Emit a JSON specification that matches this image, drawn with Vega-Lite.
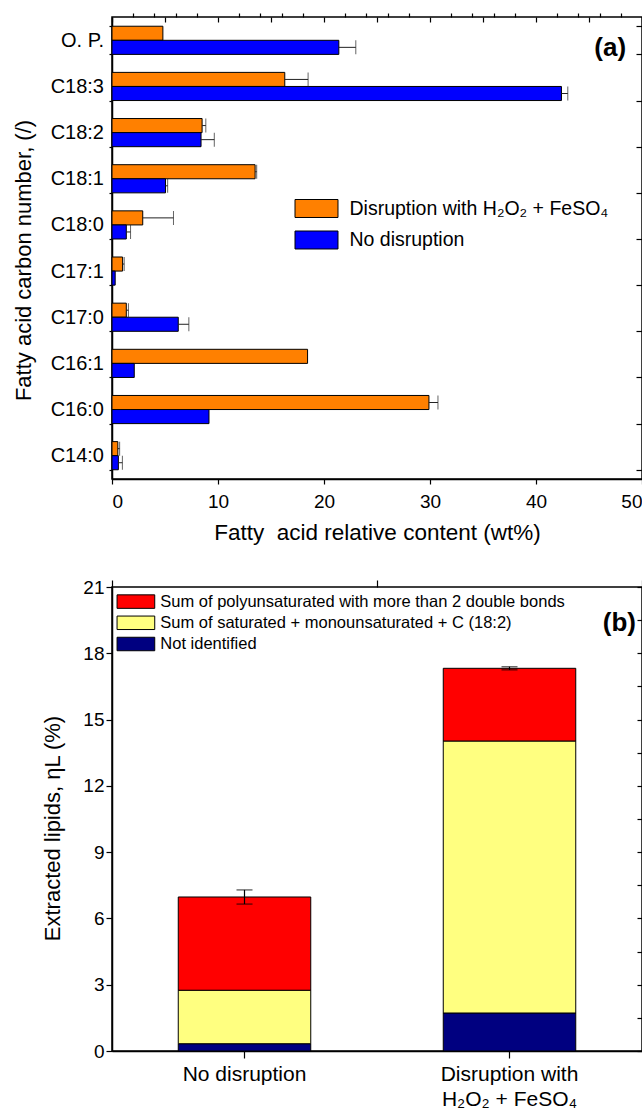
{
  "$schema": "https://vega.github.io/schema/vega-lite/v6.json",
  "background": "white",
  "padding": {"left": 11, "top": 6, "right": 2, "bottom": 0},
  "spacing": 32,
  "resolve": {"scale": {"color": "independent", "x": "independent", "y": "independent"}, "legend": {"color": "independent"}},
  "config": {
    "font": "Liberation Sans",
    "view": {"stroke": "black", "strokeWidth": 1.5},
    "axis": {
      "labelFont": "Liberation Sans", "titleFont": "Liberation Sans",
      "labelColor": "black", "titleColor": "black",
      "domainColor": "black", "tickColor": "black",
      "labelFontSize": 19, "titleFontSize": 21, "titleFontWeight": "normal",
      "grid": false, "domainWidth": 1.5, "tickWidth": 1.2, "tickSize": 5, "labelPadding": 4
    },
    "legend": {"labelFont": "Liberation Sans", "labelColor": "black", "padding": 0, "labelLimit": 600}
  },
  "vconcat": [
    {
      "width": 530,
      "height": 462,
      "data": {"values": [
        {"acid": "O. P.", "treatment": "Disruption with H₂O₂ + FeSO₄", "value": 4.8, "hi": null},
        {"acid": "O. P.", "treatment": "No disruption", "value": 21.4, "hi": 23.0},
        {"acid": "C18:3", "treatment": "Disruption with H₂O₂ + FeSO₄", "value": 16.3, "hi": 18.5},
        {"acid": "C18:3", "treatment": "No disruption", "value": 42.4, "hi": 43.0},
        {"acid": "C18:2", "treatment": "Disruption with H₂O₂ + FeSO₄", "value": 8.5, "hi": 8.85},
        {"acid": "C18:2", "treatment": "No disruption", "value": 8.4, "hi": 9.65},
        {"acid": "C18:1", "treatment": "Disruption with H₂O₂ + FeSO₄", "value": 13.5, "hi": 13.65},
        {"acid": "C18:1", "treatment": "No disruption", "value": 5.05, "hi": 5.25},
        {"acid": "C18:0", "treatment": "Disruption with H₂O₂ + FeSO₄", "value": 2.9, "hi": 5.8},
        {"acid": "C18:0", "treatment": "No disruption", "value": 1.35, "hi": 1.75},
        {"acid": "C17:1", "treatment": "Disruption with H₂O₂ + FeSO₄", "value": 1.0, "hi": 1.15},
        {"acid": "C17:1", "treatment": "No disruption", "value": 0.3, "hi": null},
        {"acid": "C17:0", "treatment": "Disruption with H₂O₂ + FeSO₄", "value": 1.35, "hi": 1.55},
        {"acid": "C17:0", "treatment": "No disruption", "value": 6.25, "hi": 7.25},
        {"acid": "C16:1", "treatment": "Disruption with H₂O₂ + FeSO₄", "value": 18.45, "hi": null},
        {"acid": "C16:1", "treatment": "No disruption", "value": 2.1, "hi": null},
        {"acid": "C16:0", "treatment": "Disruption with H₂O₂ + FeSO₄", "value": 29.9, "hi": 30.75},
        {"acid": "C16:0", "treatment": "No disruption", "value": 9.15, "hi": null},
        {"acid": "C14:0", "treatment": "Disruption with H₂O₂ + FeSO₄", "value": 0.55, "hi": 0.72},
        {"acid": "C14:0", "treatment": "No disruption", "value": 0.6, "hi": 0.98}
      ]},
      "resolve": {"axis": {"x": "independent", "y": "independent"}},
      "layer": [
        {
          "mark": {"type": "bar", "stroke": "black", "strokeWidth": 1},
          "encoding": {
            "y": {"field": "acid", "type": "nominal",
              "sort": ["O. P.", "C18:3", "C18:2", "C18:1", "C18:0", "C17:1", "C17:0", "C16:1", "C16:0", "C14:0"],
              "scale": {"paddingInner": 0.39, "paddingOuter": 0.2},
              "axis": {"title": "Fatty acid carbon number, (/)", "titleFontSize": 22, "titleY": 243, "tickBand": "extent", "tickSize": 3, "labelPadding": 5.5, "labelFontSize": 20, "titlePadding": 14.5, "domain": true}},
            "yOffset": {"field": "treatment", "type": "nominal", "sort": ["Disruption with H₂O₂ + FeSO₄", "No disruption"]},
            "x": {"field": "value", "type": "quantitative", "scale": {"domain": [0, 50], "nice": false},
              "axis": {"values": [0, 10, 20, 30, 40, 50], "title": "Fatty\u00a0 acid relative content (wt%)", "titleFontSize": 22.5, "labelPadding": 8, "titlePadding": 10.5}},
            "color": {"field": "treatment", "type": "nominal",
              "scale": {"domain": ["Disruption with H₂O₂ + FeSO₄", "No disruption"], "range": ["#FF8000", "#0000FF"]},
              "legend": {"title": null, "orient": "none", "legendX": 193, "legendY": 180,
                "symbolType": "M-2,-0.837H2V0.837H-2Z", "symbolSize": 462, "symbolStrokeColor": "black", "symbolStrokeWidth": 1,
                "labelFontSize": 19.5, "rowPadding": 8.5, "labelOffset": 21.5}}
          }
        },
        {
          "transform": [{"filter": "datum.hi != null"}],
          "mark": {"type": "rule", "color": "#222222", "strokeWidth": 1},
          "encoding": {
            "y": {"field": "acid", "type": "nominal",
              "sort": ["O. P.", "C18:3", "C18:2", "C18:1", "C18:0", "C17:1", "C17:0", "C16:1", "C16:0", "C14:0"],
              "axis": {"orient": "right", "labels": false, "title": null, "domain": false, "tickBand": "extent", "tickSize": -6}},
            "yOffset": {"field": "treatment", "type": "nominal", "sort": ["Disruption with H₂O₂ + FeSO₄", "No disruption"]},
            "x": {"field": "value", "type": "quantitative",
              "axis": {"values": [2, 4, 6, 8, 12, 14, 16, 18, 22, 24, 26, 28, 32, 34, 36, 38, 42, 44, 46, 48], "labels": false, "domain": false, "title": null, "tickSize": 4}},
            "x2": {"field": "hi"}
          }
        },
        {
          "transform": [{"filter": "datum.hi != null"}],
          "mark": {"type": "tick", "orient": "vertical", "color": "#222222", "size": 14, "thickness": 1},
          "encoding": {
            "y": {"field": "acid", "type": "nominal",
              "sort": ["O. P.", "C18:3", "C18:2", "C18:1", "C18:0", "C17:1", "C17:0", "C16:1", "C16:0", "C14:0"], "axis": null},
            "yOffset": {"field": "treatment", "type": "nominal", "sort": ["Disruption with H₂O₂ + FeSO₄", "No disruption"]},
            "x": {"field": "hi", "type": "quantitative",
              "axis": {"orient": "top", "values": [0, 5, 10, 15, 20, 25, 30, 35, 40, 45, 50], "labels": false, "domain": false, "title": null, "tickSize": -5}}
          }
        },
        {
          "data": {"values": [{}]},
          "mark": {"type": "text", "text": "(a)", "fontSize": 26, "fontWeight": "bold", "align": "right", "baseline": "middle", "dy": 8, "font": "Liberation Sans"},
          "encoding": {
            "x": {"datum": 48.5, "type": "quantitative", "axis": null},
            "y": {"datum": "O. P.", "type": "nominal", "axis": null}
          }
        }
      ]
    },
    {
      "width": 530,
      "height": 464,
      "resolve": {"axis": {"x": "independent", "y": "independent"}},
      "layer": [
        {
          "data": {"values": [
            {"treatment": "No disruption", "component": "Not identified", "rank": 1, "value": 0.33},
            {"treatment": "No disruption", "component": "Sum of saturated + monounsaturated + C (18:2)", "rank": 2, "value": 2.42},
            {"treatment": "No disruption", "component": "Sum of polyunsaturated with more than 2 double bonds", "rank": 3, "value": 4.22},
            {"treatment": "Disruption with H₂O₂ + FeSO₄", "component": "Not identified", "rank": 1, "value": 1.72},
            {"treatment": "Disruption with H₂O₂ + FeSO₄", "component": "Sum of saturated + monounsaturated + C (18:2)", "rank": 2, "value": 12.31},
            {"treatment": "Disruption with H₂O₂ + FeSO₄", "component": "Sum of polyunsaturated with more than 2 double bonds", "rank": 3, "value": 3.29}
          ]},
          "mark": {"type": "bar", "stroke": "black", "strokeWidth": 1, "width": {"band": 0.5}},
          "encoding": {
            "x": {"field": "treatment", "type": "nominal", "sort": ["No disruption", "Disruption with H₂O₂ + FeSO₄"],
              "scale": {"paddingInner": 0, "paddingOuter": 0},
              "axis": {"title": null, "labelAngle": 0, "tickSize": 7, "labelPadding": 5, "labelFontSize": 21, "labelLineHeight": 25,
                "labelExpr": "datum.value == 'No disruption' ? 'No disruption' : ['Disruption with', 'H₂O₂ + FeSO₄']"}},
            "y": {"field": "value", "type": "quantitative", "stack": "zero",
              "scale": {"domain": [0, 21], "nice": false},
              "axis": {"values": [0, 3, 6, 9, 12, 15, 18, 21], "title": "Extracted lipids, ηL (%)", "titleFontSize": 22, "titleY": 241, "tickSize": 6, "labelPadding": 2, "titlePadding": 18.5}},
            "color": {"field": "component", "type": "nominal",
              "scale": {"domain": ["Sum of polyunsaturated with more than 2 double bonds", "Sum of saturated + monounsaturated + C (18:2)", "Not identified"],
                "range": ["#FF0000", "#FFFF80", "#000080"]},
              "legend": {"title": null, "orient": "none", "legendX": 13.9, "legendY": 4.6,
                "symbolType": "M-2,-0.716H2V0.716H-2Z", "symbolSize": 355, "symbolStrokeColor": "black", "symbolStrokeWidth": 1,
                "labelFontSize": 16.5, "rowPadding": 2.2, "labelOffset": 14.4}},
            "order": {"field": "rank", "type": "quantitative"}
          }
        },
        {
          "data": {"values": [
            {"treatment": "No disruption", "lo": 6.65, "hi": 7.29},
            {"treatment": "Disruption with H₂O₂ + FeSO₄", "lo": 17.25, "hi": 17.39}
          ]},
          "mark": {"type": "rule", "color": "black", "strokeWidth": 1.2},
          "encoding": {
            "x": {"field": "treatment", "type": "nominal", "sort": ["No disruption", "Disruption with H₂O₂ + FeSO₄"],
              "axis": {"labels": false, "domain": false, "title": null, "tickSize": 7, "tickBand": "extent"}},
            "y": {"field": "lo", "type": "quantitative",
              "axis": {"values": [1.5, 4.5, 7.5, 10.5, 13.5, 16.5, 19.5], "labels": false, "domain": false, "title": null, "tickSize": 4}},
            "y2": {"field": "hi"}
          }
        },
        {
          "data": {"values": [
            {"treatment": "No disruption", "lo": 6.65, "hi": 7.29},
            {"treatment": "Disruption with H₂O₂ + FeSO₄", "lo": 17.25, "hi": 17.39}
          ]},
          "mark": {"type": "tick", "orient": "horizontal", "color": "black", "size": 16, "thickness": 1.2},
          "encoding": {
            "x": {"field": "treatment", "type": "nominal", "sort": ["No disruption", "Disruption with H₂O₂ + FeSO₄"], "axis": null},
            "y": {"field": "lo", "type": "quantitative",
              "axis": {"orient": "right", "values": [0, 1.5, 3, 4.5, 6, 7.5, 9, 10.5, 12, 13.5, 15, 16.5, 18, 19.5, 21], "labels": false, "domain": false, "title": null, "tickSize": -5}}
          }
        },
        {
          "data": {"values": [
            {"treatment": "No disruption", "lo": 6.65, "hi": 7.29},
            {"treatment": "Disruption with H₂O₂ + FeSO₄", "lo": 17.25, "hi": 17.39}
          ]},
          "mark": {"type": "tick", "orient": "horizontal", "color": "black", "size": 16, "thickness": 1.2},
          "encoding": {
            "x": {"field": "treatment", "type": "nominal", "sort": ["No disruption", "Disruption with H₂O₂ + FeSO₄"], "axis": null},
            "y": {"field": "hi", "type": "quantitative", "axis": null}
          }
        },
        {
          "data": {"values": [{}]},
          "mark": {"type": "text", "text": "(b)", "fontSize": 26, "fontWeight": "bold", "align": "right", "baseline": "middle", "dx": -6, "font": "Liberation Sans"},
          "encoding": {
            "x": {"datum": "Disruption with H₂O₂ + FeSO₄", "type": "nominal", "bandPosition": 1, "axis": null},
            "y": {"datum": 19.35, "type": "quantitative", "axis": null}
          }
        }
      ]
    }
  ]
}
